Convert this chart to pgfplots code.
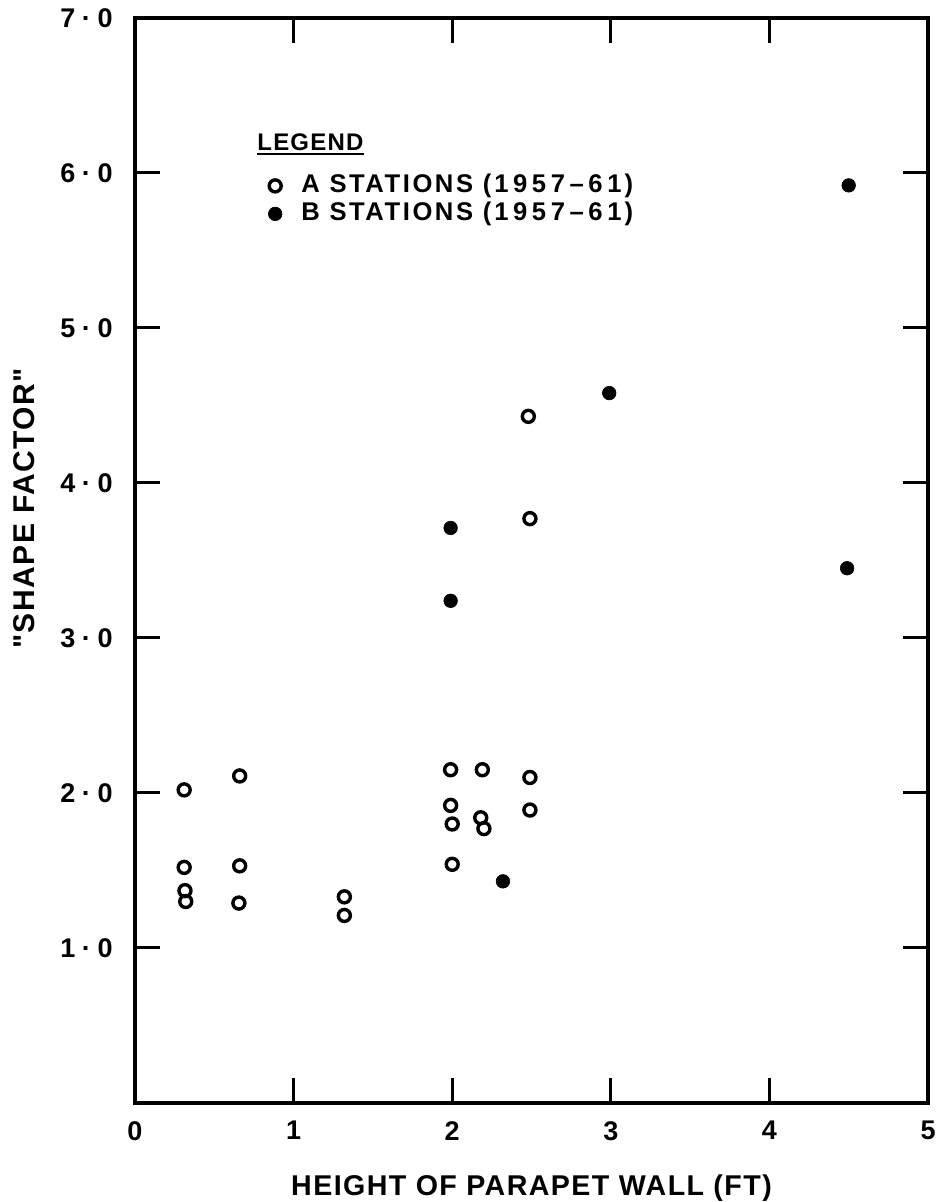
\documentclass[border=0pt]{standalone}
\usepackage{fontspec}
\setmainfont{Liberation Sans}[LetterSpace=5, Ligatures=TeXOff]
\usepackage{pgfplots}
\pgfplotsset{compat=1.18}
\newcommand{\dt}{\kern3.3pt·\kern3.3pt}
\newcommand{\yr}{(\kern1.5pt1\kern2.3pt9\kern2.3pt5\kern2.3pt7\kern2.3pt–\kern2.3pt6\kern2.3pt1\kern1.5pt)}
\begin{document}
\bfseries
\begin{tikzpicture}
\useasboundingbox (-67.5pt,-49.5pt) rectangle (401.5pt,551.5pt);
\begin{axis}[
  at={(0,0)}, anchor=south west,
  scale only axis, width=396.5pt, height=542.5pt,
  xmin=0, xmax=5, ymin=0, ymax=7,
  clip=false,
  xtick={0,1,2,3,4,5}, xticklabels={0,1,2,3,4,5},
  ytick={1,2,3,4,5,6,7}, yticklabels={1\dt0,2\dt0,3\dt0,4\dt0,5\dt0,6\dt0,7\dt0},
  tick align=inside, tick pos=both,
  xticklabel pos=lower, yticklabel pos=left,
  major tick length=12.5pt,
  every tick/.style={black, line width=1.5pt},
  axis line style={line width=2pt},
  xticklabel style={inner sep=0pt, font=\fontsize{13.5}{16}\selectfont\bfseries},
  yticklabel style={inner sep=0pt, font=\fontsize{13.5}{16}\selectfont\bfseries},
  xticklabel shift=9pt, yticklabel shift=11pt,
  xlabel={HEIGHT OF PARAPET WALL (FT)},
  xlabel style={at={(axis description cs:0.5,-0.0848)}, anchor=base, inner sep=0pt,
    font=\fontsize{14.3}{17}\selectfont\bfseries},
  ylabel={"SHAPE FACTOR"},
  ylabel style={at={(axis description cs:-0.14,0.548)}, anchor=center, inner sep=0pt,
    font=\fontsize{15}{18}\selectfont\bfseries},
  legend style={at={(axis description cs:0,1)}, anchor=north west,
    xshift=66.5pt, yshift=-78pt, draw=none, fill=none, inner sep=0pt,
    row sep=2.5pt, column sep=9.7pt,
    font=\fontsize{12.8}{15}\selectfont\bfseries\addfontfeature{LetterSpace=10},
    nodes={inner sep=0pt, text height=9pt, text depth=2.5pt}},
  legend cell align=left,
  legend image code/.code={\draw[#1] plot coordinates {(0pt,0pt)};},
]
\addplot[only marks, mark=o, mark size=3pt, black, mark options={line width=1.7pt}] coordinates {
 (0.31,2.02) (0.31,1.52) (0.315,1.37) (0.32,1.30)
 (0.66,2.11) (0.66,1.53) (0.655,1.29)
 (1.32,1.33) (1.32,1.21)
 (1.99,2.15) (1.99,1.92) (2.00,1.80) (2.00,1.54)
 (2.19,2.15) (2.18,1.84) (2.20,1.77)
 (2.49,2.10) (2.49,1.89) (2.49,3.77) (2.48,4.43)
};
\addlegendentry{A STATIONS \yr}
\addplot[only marks, mark=*, mark size=3.4pt, black, mark options={line width=0.3pt}] coordinates {
 (1.99,3.71) (1.99,3.24) (2.32,1.43) (2.99,4.58) (4.50,5.92) (4.49,3.45)
};
\addlegendentry{B STATIONS \yr}
\node (lg) [anchor=base west, inner sep=0pt, font=\fontsize{12}{14}\selectfont\bfseries]
  at ([xshift=61pt,yshift=-66.15pt]rel axis cs:0,1) {LEGEND};
\draw[line width=1.2pt] ([yshift=-1.8pt]lg.base west) -- ([yshift=-1.8pt]lg.base east);
\end{axis}
\end{tikzpicture}
\end{document}
